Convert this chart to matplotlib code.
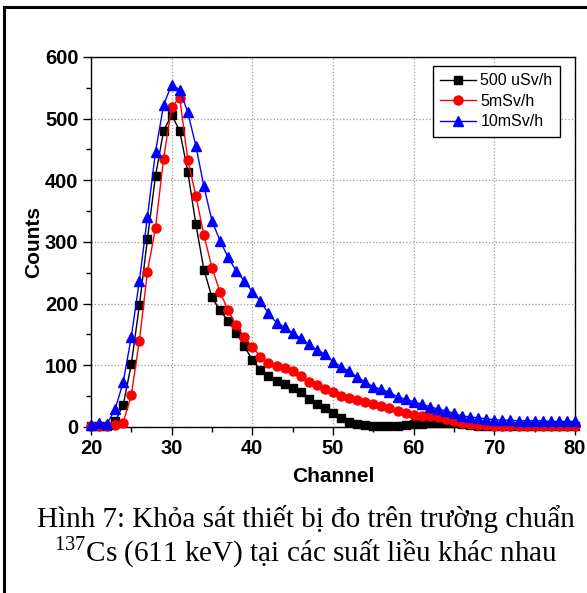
#!/usr/bin/env python3
"""Cs-137 spectra at three dose rates (Hinh 7)."""
import matplotlib
matplotlib.use("Agg")
import matplotlib.pyplot as plt
from matplotlib.lines import Line2D

channels = list(range(20, 81))

# 500 uSv/h
counts_500u = [1, 1, 2, 9, 36, 102, 197, 305, 407, 480,
               506, 480, 414, 329, 255, 210, 189, 172, 153, 131,
               109, 92, 82, 75, 69, 63, 56, 45, 38, 31,
               23, 15, 8, 5, 3, 2, 2, 2, 2, 3,
               4, 5, 6, 7, 7, 6, 4, 3, 2, 1,
               1, 1, 1, 1, 1, 1, 1, 1, 1, 1, 1]
# 5 mSv/h
counts_5m = [1, 1, 1, 3, 7, 52, 140, 252, 323, 435,
             519, 534, 433, 375, 311, 258, 219, 189, 165, 146,
             130, 114, 103, 99, 95, 90, 82, 73, 68, 61,
             56, 50, 47, 43, 40, 37, 34, 30, 26, 22,
             19, 18, 17, 16, 13, 10, 6, 5, 3, 3,
             2, 2, 2, 2, 2, 2, 2, 2, 2, 2, 2]
# 10 mSv/h
counts_10m = [3, 6, 5, 29, 73, 146, 237, 341, 446, 522,
              555, 547, 510, 456, 390, 334, 302, 275, 253, 237,
              219, 204, 184, 169, 162, 152, 144, 134, 125, 118,
              106, 98, 90, 81, 73, 65, 61, 56, 49, 45,
              41, 37, 33, 29, 26, 22, 18, 16, 15, 13,
              12, 11, 11, 10, 10, 10, 10, 9, 9, 9, 9]

series_labels = ["500 uSv/h", "5mSv/h", "10mSv/h"]
caption1 = "Hình 7: Khỏa sát thiết bị đo trên trường chuẩn"
caption2 = r"$^{137}$Cs (611 keV) tại các suất liều khác nhau"

plt.rcParams["font.family"] = ["Liberation Sans", "DejaVu Sans"]
plt.rcParams["mathtext.fontset"] = "custom"
plt.rcParams["mathtext.rm"] = "Liberation Serif"

fig = plt.figure(figsize=(5.87, 5.93), dpi=100)
ax = fig.add_axes([0.155, 0.280, 0.8245, 0.624])

ax.plot(channels, counts_500u, "-s", color="black", lw=1, ms=5.5, label=series_labels[0], clip_on=False, zorder=3)
ax.plot(channels, counts_5m, "-o", color="red", lw=1, ms=6.5, label=series_labels[1], clip_on=False, zorder=3)
ax.plot(channels, counts_10m, "-^", color="blue", lw=1, ms=7, label=series_labels[2], clip_on=False, zorder=3)

ax.set_xlim(20, 80)
ax.set_ylim(0, 600)
ax.set_xticks(range(20, 81, 10))
ax.set_xticks(range(25, 80, 10), minor=True)
ax.set_yticks(range(0, 601, 100))
ax.set_yticks(range(50, 600, 100), minor=True)
ax.tick_params(which="major", direction="out", length=6, width=1, labelsize=14.5, pad=3)
ax.tick_params(which="minor", direction="out", length=3.5, width=1)
for lab in ax.get_xticklabels() + ax.get_yticklabels():
    lab.set_fontweight("bold")
ax.grid(True, which="major", ls=":", color="#9a9a9a", lw=0.9)
for sp in ax.spines.values():
    sp.set_linewidth(1)

ax.set_xlabel("Channel", fontsize=15, fontweight="bold", labelpad=6)
ax.set_ylabel("Counts", fontsize=15, fontweight="bold", labelpad=1.5)

leg = ax.legend(loc="upper right", bbox_to_anchor=(0.985, 0.997), fontsize=11.5, fancybox=False,
                framealpha=1, edgecolor="black", handlelength=2.2, borderpad=0.45,
                labelspacing=0.35, handletextpad=0.3)
leg.get_frame().set_linewidth(1)

fig.text(0.521, 0.125, caption1, ha="center", va="center", fontsize=21, family="Liberation Serif")
fig.text(0.521, 0.069, caption2, ha="center", va="center", fontsize=21, family="Liberation Serif")

# outer frame (top and left edges of the figure box)
fig.add_artist(Line2D([0.007, 1.0], [0.988, 0.988], color="black", lw=2.2))
fig.add_artist(Line2D([0.007, 0.007], [0.0, 0.988], color="black", lw=2.2))

plt.savefig("out.png", dpi=100)
plt.close()
